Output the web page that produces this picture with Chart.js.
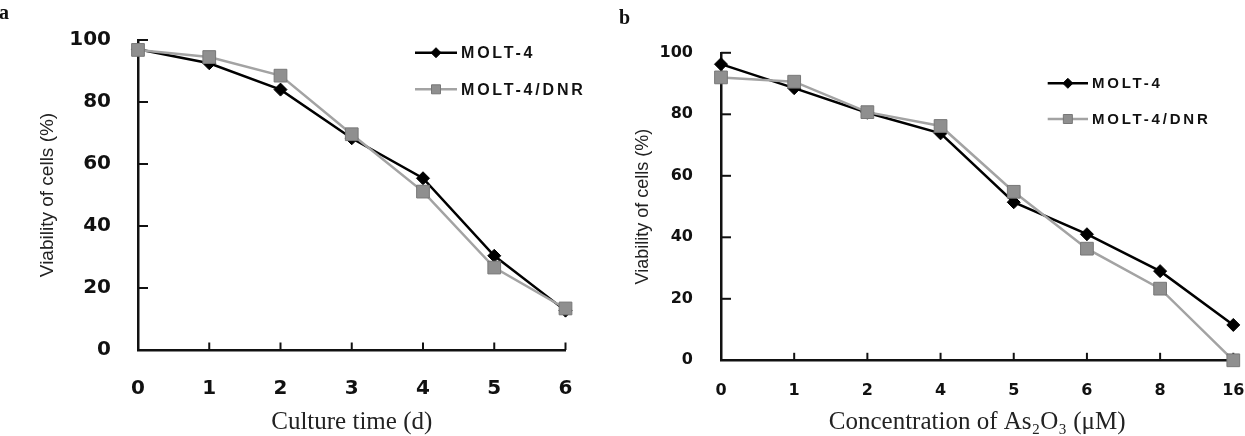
<!DOCTYPE html>
<html>
<head>
<meta charset="utf-8">
<script src="https://cdn.jsdelivr.net/npm/chart.js@4.4.1/dist/chart.umd.min.js"></script>
<style>
  html, body { margin: 0; padding: 0; background: #fff; }
  #wrap { position: relative; width: 1245px; height: 436px; overflow: hidden; }
  .panel { position: absolute; top: 0; height: 436px; }
  #pa { left: 0; width: 620px; }
  #pb { left: 620px; width: 625px; }
  .tag { position: absolute; font: bold 20px "Liberation Serif", serif; line-height: 20px; color: #111; }
</style>
</head>
<body>
<div id="wrap">
  <div class="panel" id="pa"><canvas id="chart-a"></canvas></div>
  <div class="panel" id="pb"><canvas id="chart-b"></canvas></div>
  <div class="tag" style="left:-1px;top:2px">a</div>
  <div class="tag" style="left:619px;top:7px">b</div>
</div>
<script>
"use strict";

// panel a: viability vs culture time
const timeDays = [0, 1, 2, 3, 4, 5, 6];
const timeMolt4 = [97, 92.5, 84, 68.3, 55.4, 30.4, 12.7];
const timeDnr = [96.8, 94.5, 88.5, 69.6, 51.1, 26.6, 13.4];

// panel b: viability vs As2O3 concentration
const doseLabels = ["0", "1", "2", "4", "5", "6", "8", "16"];
const doseMolt4 = [96.3, 88.5, 80.5, 73.8, 51.4, 41, 29, 11.5];
const doseDnr = [92, 90.6, 80.7, 76.2, 54.8, 36.3, 23.3, 0];

const yTicks = [0, 20, 40, 60, 80, 100];
const seriesNames = ["MOLT-4", "MOLT-4/DNR"];

const AXIS = "#111";

// tick marks point inward, like the original figure
const innerTicks = {
  id: "innerTicks",
  beforeDatasetsDraw(chart, args, o) {
    const { ctx, chartArea } = chart;
    const x = chart.scales.x, y = chart.scales.y;
    ctx.save();
    ctx.strokeStyle = AXIS;
    ctx.lineWidth = 2;
    y.ticks.forEach((t, i) => {
      if (i === 0) return;
      const py = y.getPixelForTick(i);
      ctx.beginPath();
      ctx.moveTo(chartArea.left, py);
      ctx.lineTo(chartArea.left + o.yLen, py);
      ctx.stroke();
    });
    x.ticks.forEach((t, i) => {
      if (i === 0) return;
      const px = x.getPixelForTick(i);
      ctx.beginPath();
      ctx.moveTo(px, chartArea.bottom);
      ctx.lineTo(px, chartArea.bottom - o.xLen);
      ctx.stroke();
    });
    ctx.restore();
  },
};

// legend floating inside the plot, drawn from the dataset styles
const insideLegend = {
  id: "insideLegend",
  afterDraw(chart, args, o) {
    const ctx = chart.ctx;
    chart.data.datasets.forEach((ds, i) => {
      const y = o.y + i * o.gap;
      const cx = o.x + o.len / 2;
      ctx.save();
      ctx.strokeStyle = ds.borderColor;
      ctx.lineWidth = ds.borderWidth;
      ctx.beginPath();
      ctx.moveTo(o.x, y);
      ctx.lineTo(o.x + o.len, y);
      ctx.stroke();

      ctx.fillStyle = ds.pointBackgroundColor;
      ctx.strokeStyle = ds.pointBorderColor;
      ctx.lineWidth = 1;
      ctx.beginPath();
      if (ds.pointStyle === "rectRot") {
        const r = o.diamond;
        ctx.moveTo(cx, y - r);
        ctx.lineTo(cx + r, y);
        ctx.lineTo(cx, y + r);
        ctx.lineTo(cx - r, y);
        ctx.closePath();
      } else {
        const s = o.square;
        ctx.rect(cx - s / 2, y - s / 2, s, s);
      }
      ctx.fill();
      ctx.stroke();

      ctx.font = o.font;
      ctx.letterSpacing = o.spacing;
      ctx.fillStyle = "#111";
      ctx.textBaseline = "middle";
      ctx.textAlign = "left";
      ctx.fillText(ds.label, o.x + o.len + o.textGap, y + 1);
      ctx.restore();
    });
  },
};

function buildDatasets(molt, dnr) {
  return [
    {
      label: seriesNames[0],
      data: molt,
      borderColor: "#000",
      borderWidth: 2.5,
      pointStyle: "rectRot",
      pointRadius: 6.5,
      pointBackgroundColor: "#000",
      pointBorderColor: "#000",
      pointBorderWidth: 1,
      order: 1,
      clip: false,
    },
    {
      label: seriesNames[1],
      data: dnr,
      borderColor: "#a3a3a3",
      borderWidth: 2.5,
      pointStyle: "rect",
      pointRadius: 9,
      pointBackgroundColor: "#8f8f8f",
      pointBorderColor: "#777",
      pointBorderWidth: 1,
      order: 0,
      clip: false,
    },
  ];
}

function buildScales(p) {
  return {
    x: {
      type: "category",
      offset: false,
      grid: { display: false },
      border: { display: true, color: AXIS, width: 2.5 },
      ticks: {
        color: "#111",
        font: { family: "DejaVu Sans", weight: "bold", size: p.tickSize },
        padding: p.xTickPad,
        maxRotation: 0,
        autoSkip: false,
      },
      title: {
        display: true,
        text: p.xTitle,
        color: "#222",
        font: { family: "Liberation Serif", size: 25, lineHeight: 1 },
        padding: { top: 0, bottom: 1 },
      },
      afterFit: (s) => { s.height = p.xHeight; s.paddingLeft = 0; s.paddingRight = 0; },
    },
    y: {
      min: 0,
      max: 100,
      grid: { display: false },
      border: { display: true, color: AXIS, width: 2.5 },
      afterBuildTicks: (s) => { s.ticks = yTicks.map((v) => ({ value: v })); },
      ticks: {
        color: "#111",
        font: { family: "DejaVu Sans", weight: "bold", size: p.tickSize },
        padding: p.yTickPad,
      },
      title: {
        display: true,
        text: "Viability of cells (%)",
        color: "#222",
        font: { family: "Liberation Sans", size: p.yTitleSize },
        padding: { top: p.yTitlePad, bottom: 0 },
      },
      afterFit: (s) => { s.width = p.yWidth; },
    },
  };
}

function makeChart(id, labels, molt, dnr, p) {
  return new Chart(document.getElementById(id), {
    type: "line",
    data: { labels, datasets: buildDatasets(molt, dnr) },
    options: {
      responsive: true,
      maintainAspectRatio: false,
      animation: false,
      events: [],
      layout: { padding: p.pad },
      plugins: {
        legend: { display: false },
        tooltip: { enabled: false },
        innerTicks: { xLen: 7.5, yLen: 10 },
        insideLegend: p.legend,
      },
      scales: buildScales(p),
    },
    plugins: [innerTicks, insideLegend],
  });
}

makeChart("chart-a", timeDays.map(String), timeMolt4, timeDnr, {
  pad: { top: 40, right: 54.5, left: 0, bottom: 0 },
  tickSize: 20,
  xTickPad: 19,
  yTickPad: 19,
  xHeight: 86,
  yWidth: 138,
  yTitleSize: 19,
  yTitlePad: 36,
  xTitle: "Culture time (d)",
  legend: {
    x: 415, y: 52.7, gap: 36.6, len: 42, textGap: 4,
    diamond: 5, square: 9,
    font: "bold 16px 'Liberation Sans'", spacing: "2.8px",
  },
});

makeChart("chart-b", doseLabels, doseMolt4, doseDnr, {
  pad: { top: 52.8, right: 11.7, left: 0, bottom: 0 },
  tickSize: 16,
  xTickPad: 13,
  yTickPad: 20,
  xHeight: 75.7,
  yWidth: 101,
  yTitleSize: 18,
  yTitlePad: 12,
  xTitle: "Concentration of As\u2082O\u2083 (\u03BCM)",
  legend: {
    x: 427.7, y: 83.3, gap: 35.7, len: 40.3, textGap: 4,
    diamond: 5, square: 9,
    font: "bold 15px 'Liberation Sans'", spacing: "2.8px",
  },
});
</script>
</body>
</html>
